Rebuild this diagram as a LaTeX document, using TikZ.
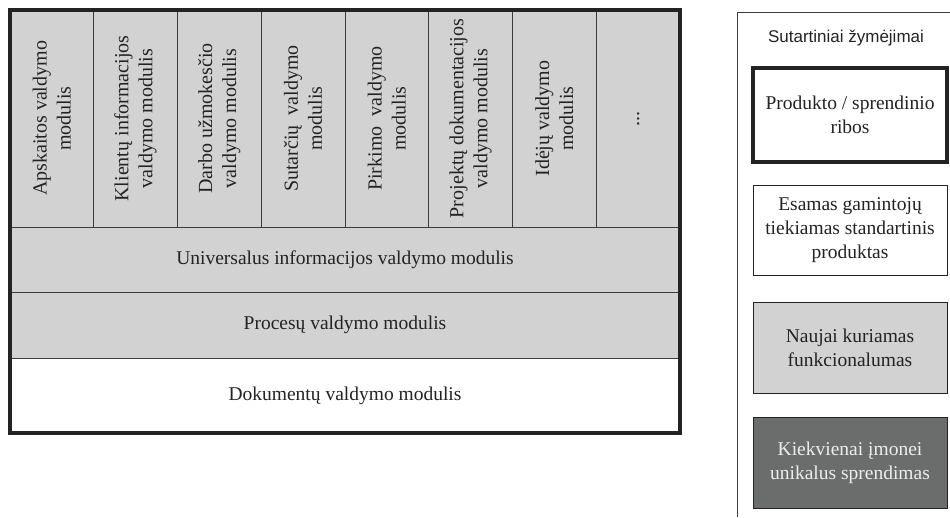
\documentclass[tikz,border=0pt]{standalone}
\usepackage{fontspec}
\setmainfont{Liberation Serif}
\setsansfont{Liberation Sans}
\usetikzlibrary{positioning}

\definecolor{modgray}{RGB}{210,210,210}
\definecolor{uniquegray}{RGB}{107,109,109}
\definecolor{linegray}{RGB}{60,60,60}
\definecolor{textgray}{RGB}{35,35,35}

\begin{document}
\begin{tikzpicture}[x=1pt,y=-1pt,
    module/.style={draw=linegray,line width=0.9pt,fill=modgray,text=textgray,
        rotate=90,minimum width=217pt,minimum height=83.75pt,
        inner sep=0pt,outer sep=0pt,align=center,
        font=\fontsize{20}{24}\selectfont},
    layer/.style={draw=linegray,line width=0.9pt,fill=modgray,text=textgray,
        minimum width=670pt,minimum height=#1,inner sep=0pt,outer sep=0pt,
        font=\fontsize{19.5}{24}\selectfont},
    legendkey/.style={draw=textgray,line width=1pt,text=textgray,
        minimum width=194pt,minimum height=#1,inner sep=0pt,outer sep=0pt,
        align=center,font=\fontsize{19.5}{24}\selectfont}]
    \useasboundingbox (0,0) rectangle (950,517);

    % Modules
    \node[module] (apskaita) at (51.9,118.5) {Apskaitos valdymo\\modulis};
    \node[module] (klientai) at (135.6,118.5) {Klientų informacijos\\valdymo modulis};
    \node[module] (darbas) at (219.4,118.5) {Darbo užmokesčio\\valdymo modulis};
    \node[module] (sutartys) at (303.1,118.5) {Sutarčių~ valdymo\\modulis};
    \node[module] (pirkimai) at (386.9,118.5) {Pirkimo~ valdymo\\modulis};
    \node[module] (projektai) at (470.6,118.5) {Projektų dokumentacijos\\valdymo modulis};
    \node[module] (ideja) at (554.4,118.5) {Idėjų valdymo\\modulis};
    \node[module] (kita) at (638.1,118.5) {...};

    % Base layers
    \node[layer=65pt] (universalus) at (345,259.5) {Universalus informacijos valdymo modulis};
    \node[layer=66pt, below=0pt of universalus] (procesai) {Procesų valdymo modulis};
    \node[layer=75pt, below=0pt of procesai, fill=white] (dokumentai) {Dokumentų valdymo modulis};

    % Product boundary
    \draw[line width=3.2pt,color=textgray] (dokumentai.south west) rectangle (dokumentai.east |- apskaita.east);

    % Legend
    \draw[line width=1pt,color=linegray] (737,517) |- (950,12);
    \node[text=textgray,font=\sffamily\fontsize{17}{20}\selectfont] (legendtitle) at (846,38) {Sutartiniai žymėjimai};
    \node[legendkey=94pt, line width=3.2pt] (keyborder) at (850,115) {Produkto / sprendinio\\ribos};
    \node[legendkey=90pt, below=23pt of keyborder] (keyexisting) {Esamas gamintojų\\tiekiamas standartinis\\produktas};
    \node[legendkey=91pt, below=27pt of keyexisting, fill=modgray] (keynew) {Naujai kuriamas\\funkcionalumas};
    \node[legendkey=91pt, below=24pt of keynew, fill=uniquegray, text=white!93!black] (keyunique) {Kiekvienai įmonei\\unikalus sprendimas};
\end{tikzpicture}
\end{document}
